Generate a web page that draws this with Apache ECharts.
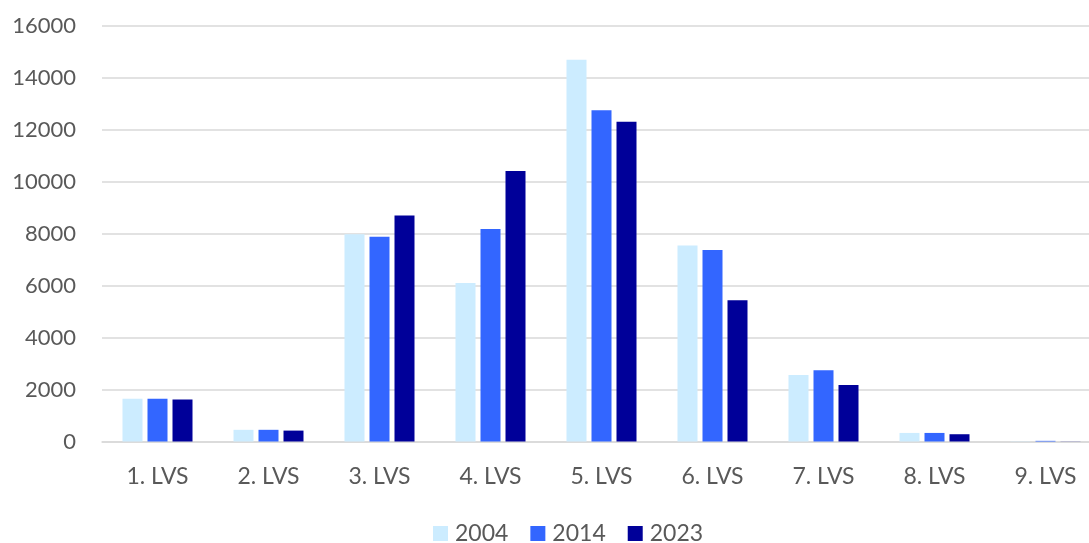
<!DOCTYPE html>
<html>
<head>
<meta charset="utf-8">
<script src="https://cdn.jsdelivr.net/npm/echarts@6/dist/echarts.min.js"></script>
<style>html,body{margin:0;padding:0;background:#fff;overflow:hidden;width:1089px;height:543px;}#c{width:1101px;height:543px;}</style>
</head>
<body>
<div id="c"></div>
<script>
const categories = ['1. LVS','2. LVS','3. LVS','4. LVS','5. LVS','6. LVS','7. LVS','8. LVS','9. LVS'];
const s2004 = [1650, 450, 7980, 6100, 14700, 7550, 2560, 330, 10];
const s2014 = [1650, 450, 7880, 8180, 12760, 7370, 2740, 330, 25];
const s2023 = [1620, 420, 8700, 10420, 12310, 5440, 2180, 280, 5];
const yTicks = {min: 0, max: 16000, interval: 2000};

const font = 'Lato, "Open Sans", sans-serif';
const chart = echarts.init(document.getElementById('c'));
function bar(name, data, color) {
  return {name, type: 'bar', data, barWidth: 20, barGap: '25%',
    itemStyle: {color}, animation: false};
}
chart.setOption({
  animation: false,
  grid: {left: 102, right: 0, top: 26, bottom: 101.5},
  legend: {
    top: 517, left: 428, itemWidth: 15, itemHeight: 15, itemGap: 22,
    icon: 'rect',
    textStyle: {fontSize: 23, color: '#595959', fontFamily: font, padding: [0,0,0,2]},
    data: ['2004','2014','2023']
  },
  xAxis: {
    type: 'category', data: categories,
    axisLine: {lineStyle: {color: '#D9D9D9', width: 1.5}},
    axisTick: {show: false},
    axisLabel: {fontSize: 23, color: '#595959', fontFamily: font, margin: 24}
  },
  yAxis: {
    type: 'value', min: yTicks.min, max: yTicks.max, interval: yTicks.interval,
    axisLine: {show: false}, axisTick: {show: false},
    splitLine: {lineStyle: {color: '#D9D9D9', width: 1.5}},
    axisLabel: {fontSize: 22, color: '#595959', fontFamily: font, margin: 26,
      formatter: v => String(v)}
  },
  series: [
    bar('2004', s2004, '#CCECFF'),
    bar('2014', s2014, '#3366FF'),
    bar('2023', s2023, '#000099')
  ]
});
</script>
</body>
</html>
